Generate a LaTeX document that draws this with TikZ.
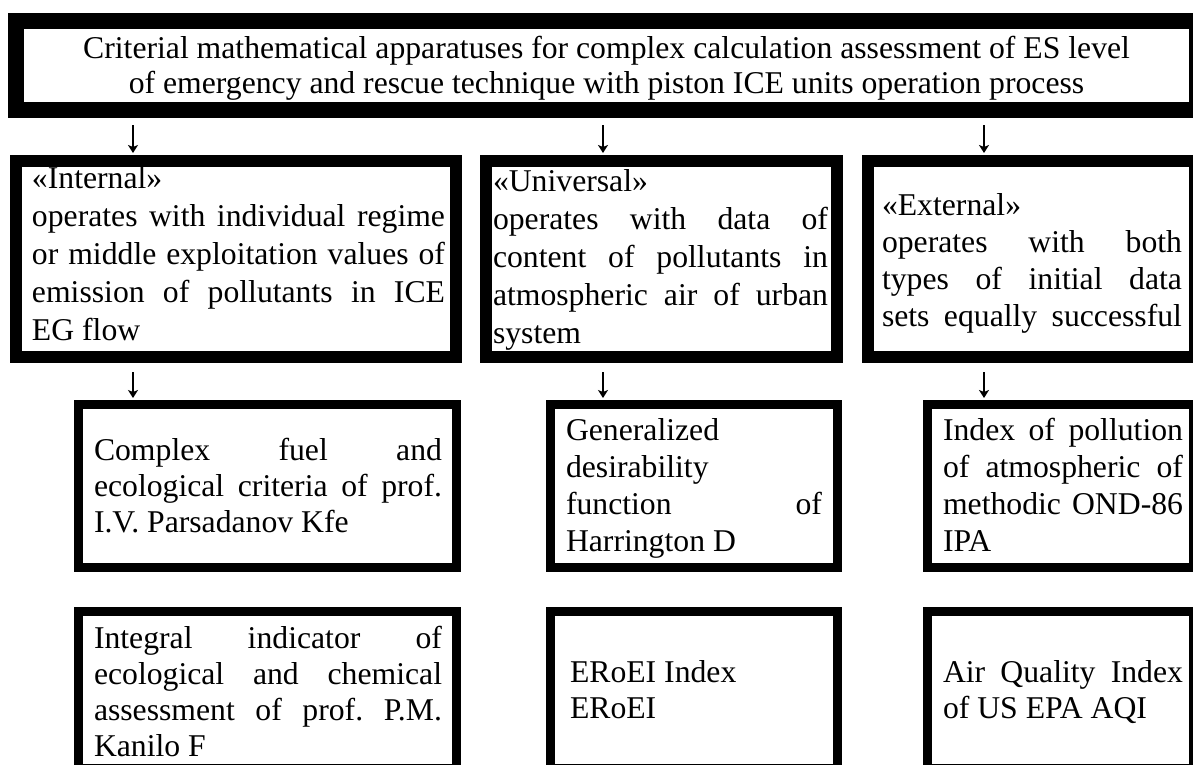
\documentclass[tikz,border=0pt]{standalone}
\usepackage{fontspec}
\setmainfont{Liberation Serif}
\usetikzlibrary{arrows.meta}
\frenchspacing
\newcommand\bxt[7]{\parbox[c][#2][t]{#1}{\fontsize{31.7pt}{#3}\selectfont\frenchspacing\setlength\parskip{0pt}\setlength\leftskip{#4}\setlength\rightskip{#5}\tolerance=10000 \hbadness=10000 \rule{0pt}{#6}#7\par}}
\tikzset{
  frame/.style={draw=black, line width=#1, inner sep=0pt, outer sep=0pt, anchor=north west, fill=white},
  conn/.style={line width=1.5pt, -{Stealth[length=8pt,width=10pt,inset=2pt]}},
}
\begin{document}
\begin{tikzpicture}[x=1pt,y=-1pt]
\useasboundingbox[fill=white] (0,0) rectangle (1193,764);
\clip (0,0) rectangle (1193,764);
% top box
\node[frame=16pt] (top) at (16,21) {\parbox[c][89pt][t]{1181pt}{\fontsize{31.7pt}{35pt}\selectfont\frenchspacing\centering\rule{0pt}{37pt}Criterial mathematical apparatuses for complex calculation assessment of ES level\\ of emergency and rescue technique with piston ICE units operation process\par}};
% middle row
\node[frame=12pt] (int) at (16,161) {\bxt{440pt}{196pt}{38pt}{16pt}{11pt}{27pt}{«Internal»\\ operates with individual regime\linebreak or middle exploitation values of\linebreak emission of pollutants in ICE\linebreak EG flow}};
\node[frame=12pt] (uni) at (486,161) {\bxt{351pt}{196pt}{38pt}{7pt}{9pt}{30pt}{«Universal»\\ operates with data of\linebreak content of pollutants in\linebreak atmospheric air of urban\linebreak system}};
\node[frame=12pt] (ext) at (868,161) {\bxt{327pt}{196pt}{37pt}{14pt}{13pt}{54pt}{\parfillskip=0pt «External»\\ operates with both\linebreak types of initial data\linebreak sets equally successful}};
% third row
\node[frame=9pt] (kfe) at (78.5,404.5) {\bxt{378pt}{163pt}{36pt}{15.5pt}{14.5pt}{55.5pt}{Complex fuel and\linebreak ecological criteria of prof.\linebreak I.V. Parsadanov Kfe}};
\node[frame=9pt] (har) at (550.5,404.5) {\bxt{287pt}{163pt}{37pt}{15.5pt}{15.5pt}{35.5pt}{Generalized\linebreak desirability\linebreak function of\linebreak Harrington D}};
\node[frame=9pt] (ipa) at (927.5,404.5) {\bxt{266pt}{163pt}{37pt}{15.5pt}{10.5pt}{35.5pt}{Index of pollution\linebreak of atmospheric of\linebreak methodic OND-86\linebreak IPA}};
% bottom row
\node[frame=9pt] (kan) at (78.5,611.5) {\bxt{378pt}{157pt}{36pt}{15.5pt}{14.5pt}{36.5pt}{Integral indicator of\linebreak ecological and chemical\linebreak assessment of prof. P.M.\linebreak Kanilo F}};
\node[frame=9pt] (ero) at (550.5,611.5) {\bxt{287pt}{157pt}{36pt}{19.5pt}{15.5pt}{70.5pt}{ERoEI Index\\ ERoEI}};
\node[frame=9pt] (aqi) at (927.5,611.5) {\bxt{266pt}{157pt}{36pt}{15.5pt}{10.5pt}{70.5pt}{Air Quality Index\linebreak of US EPA AQI}};
% arrows
\coordinate (c1) at (133,0);
\coordinate (c2) at (603,0);
\coordinate (c3) at (984,0);
\draw[conn] ([yshift=-15pt]top.south -| c1) -- ([yshift=8pt]int.north -| c1);
\draw[conn] ([yshift=-15pt]top.south -| c2) -- ([yshift=8pt]uni.north -| c2);
\draw[conn] ([yshift=-15pt]top.south -| c3) -- ([yshift=8pt]ext.north -| c3);
\draw[conn] ([yshift=-15pt]int.south -| c1) -- ([yshift=6.5pt]kfe.north -| c1);
\draw[conn] ([yshift=-15pt]uni.south -| c2) -- ([yshift=6.5pt]har.north -| c2);
\draw[conn] ([yshift=-15pt]ext.south -| c3) -- ([yshift=6.5pt]ipa.north -| c3);
\end{tikzpicture}
\end{document}
